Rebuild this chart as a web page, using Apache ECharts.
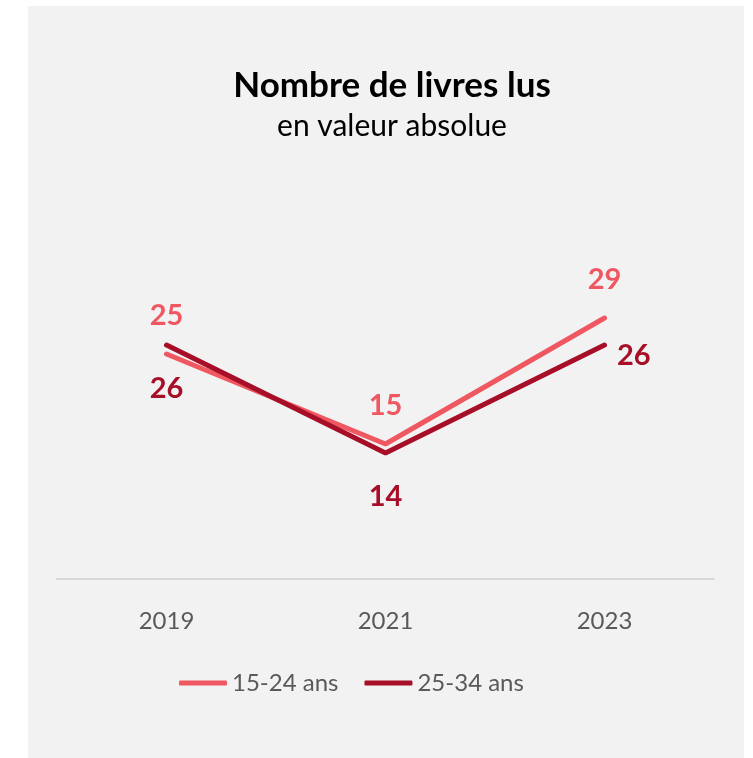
<!DOCTYPE html>
<html>
<head>
<meta charset="utf-8">
<script src="https://cdn.jsdelivr.net/npm/echarts@6/dist/echarts.min.js"></script>
<style>
  html, body { margin: 0; padding: 0; background: #fff; }
  #chart { width: 753px; height: 758px; }
</style>
</head>
<body>
<div id="chart"></div>
<script>
const years = ['2019', '2021', '2023']
const young = [25, 15, 29]   // 15-24 ans
const adults = [26, 14, 26]  // 25-34 ans

const lightRed = '#ef5761'
const darkRed = '#a60f27'
const font = 'Lato, "Open Sans", sans-serif'

const chart = echarts.init(document.getElementById('chart'))

const labelBold = { fontFamily: font, fontWeight: 'bold', fontSize: 29 }

chart.setOption({
  animation: false,
  backgroundColor: '#fff',
  graphic: [
    {
      type: 'rect',
      z: -10,
      shape: { x: 28, y: 6, width: 716, height: 752 },
      style: { fill: '#f2f2f2' }
    }
  ],
  title: {
    text: 'Nombre de livres lus',
    subtext: 'en valeur absolue',
    left: 387,
    textAlign: 'center',
    top: 63,
    itemGap: 8,
    textStyle: { fontFamily: font, fontWeight: 'bold', fontSize: 35, color: '#000' },
    subtextStyle: { fontFamily: font, fontSize: 30, color: '#000' }
  },
  legend: {
    left: 174,
    top: 666,
    itemWidth: 48,
    itemHeight: 5,
    itemGap: 26,
    textStyle: { fontFamily: font, fontSize: 24, color: '#595959' },
    data: [
      { name: '15-24 ans', icon: 'roundRect' },
      { name: '25-34 ans', icon: 'roundRect' }
    ]
  },
  grid: { left: 57, right: 39, top: 219, bottom: 179 },
  xAxis: {
    type: 'category',
    data: years,
    axisLine: { lineStyle: { color: '#d9d9d9', width: 2 } },
    axisTick: { show: false },
    axisLabel: { fontFamily: font, fontSize: 24, color: '#595959', margin: 30 }
  },
  yAxis: {
    type: 'value',
    min: 0,
    max: 40,
    show: false,
    splitLine: { show: false }
  },
  series: [
    {
      name: '15-24 ans',
      type: 'line',
      symbol: 'circle',
      symbolSize: 1,
      data: young,
      color: lightRed,
      itemStyle: { color: lightRed },
      lineStyle: { width: 5, color: lightRed, cap: 'round' },
      label: {
        show: true,
        position: 'top',
        distance: 23,
        color: lightRed,
        ...labelBold
      },
      z: 2
    },
    {
      name: '25-34 ans',
      type: 'line',
      symbol: 'circle',
      symbolSize: 1,
      color: darkRed,
      itemStyle: { color: darkRed },
      data: [
        { value: adults[0] },
        { value: adults[1] },
        { value: adults[2], label: { position: 'right', distance: 12, offset: [0, 11] } }
      ],
      lineStyle: { width: 5, color: darkRed, cap: 'round' },
      label: {
        show: true,
        position: 'bottom',
        distance: 29,
        color: darkRed,
        ...labelBold
      },
      z: 3
    }
  ]
})
</script>
</body>
</html>
